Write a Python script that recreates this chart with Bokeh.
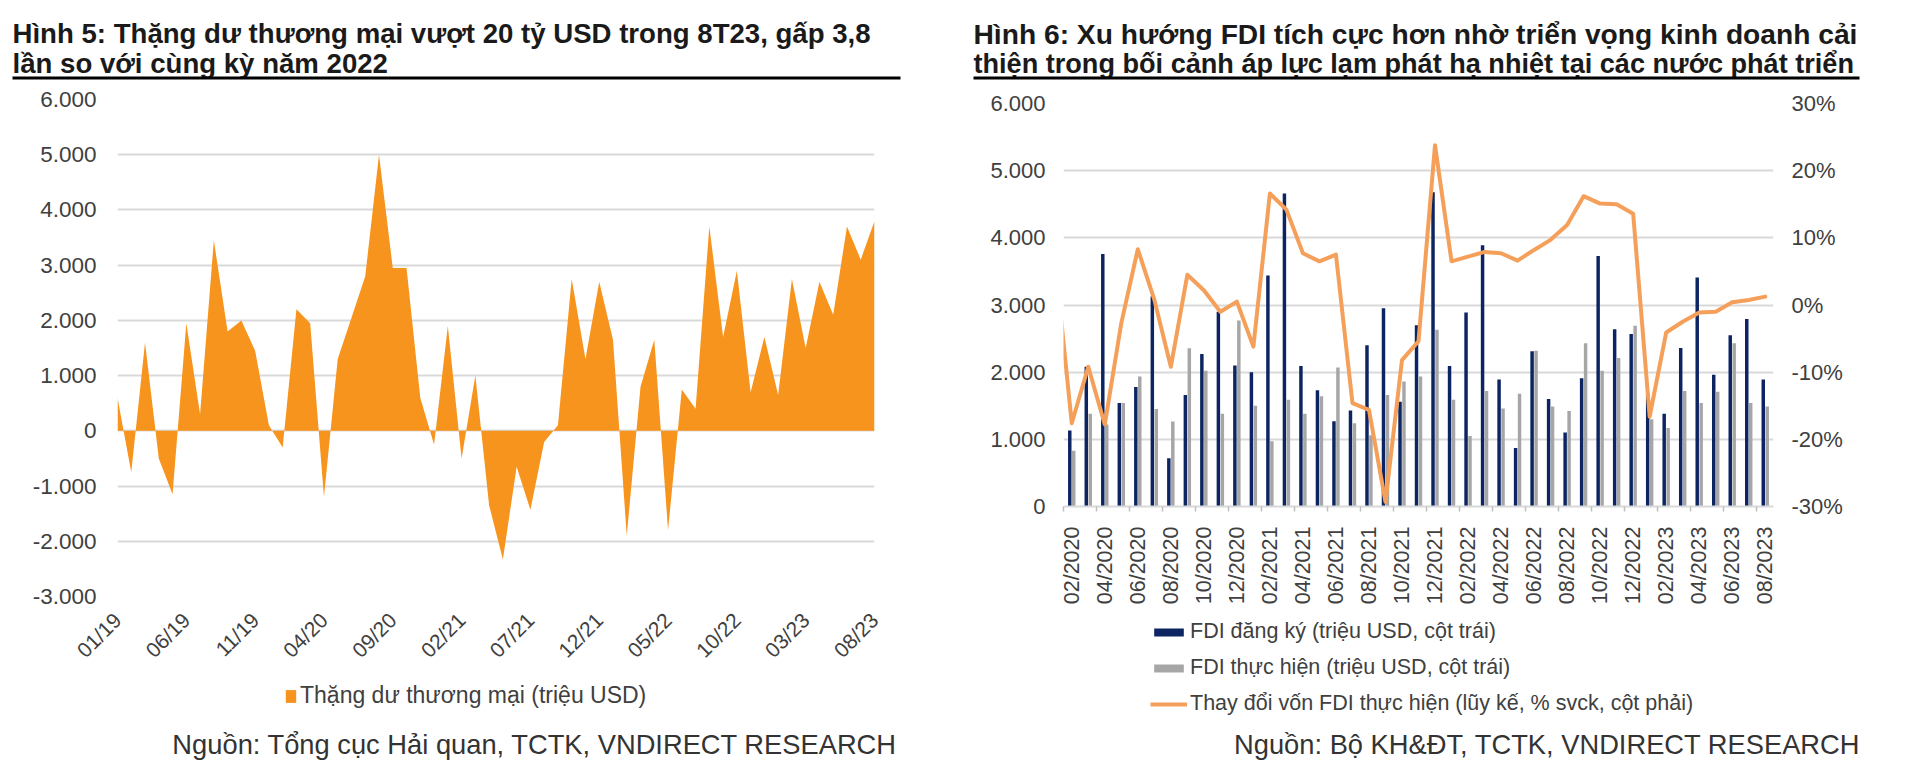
import numpy as np
from bokeh.plotting import figure
from bokeh.models import (Range1d, LinearAxis, FixedTicker, Label, BoxAnnotation,
                          Legend, LegendItem)
from bokeh.layouts import row, column
from bokeh.embed import file_html
from bokeh.resources import INLINE

FONT = "Liberation Sans"

# ---------------- Hình 5 data ----------------
trade_months = [
    "01/19", "02/19", "03/19", "04/19", "05/19", "06/19", "07/19", "08/19", "09/19", "10/19", "11/19", "12/19",
    "01/20", "02/20", "03/20", "04/20", "05/20", "06/20", "07/20", "08/20", "09/20", "10/20", "11/20", "12/20",
    "01/21", "02/21", "03/21", "04/21", "05/21", "06/21", "07/21", "08/21", "09/21", "10/21", "11/21", "12/21",
    "01/22", "02/22", "03/22", "04/22", "05/22", "06/22", "07/22", "08/22", "09/22", "10/22", "11/22", "12/22",
    "01/23", "02/23", "03/23", "04/23", "05/23", "06/23", "07/23", "08/23"]
trade_surplus = [
    600, -750, 1600, -500, -1150, 1950, 300, 3450, 1800, 2000, 1450, 100,
    -300, 2200, 1950, -1200, 1300, 2050, 2800, 5000, 2950, 2950, 600, -250,
    1900, -500, 1000, -1350, -2330, -650, -1430, -200, 100, 2750, 1300, 2700,
    1650, -1900, 800, 1650, -1800, 750, 400, 3700, 1700, 2900, 700, 1700,
    650, 2750, 1500, 2700, 2100, 3700, 3100, 3800]
trade_yticks = [-3000, -2000, -1000, 0, 1000, 2000, 3000, 4000, 5000, 6000]
trade_ytick_labels = ["-3.000", "-2.000", "-1.000", "0", "1.000", "2.000", "3.000", "4.000", "5.000", "6.000"]
trade_title = ["Hình 5: Thặng dư thương mại vượt 20 tỷ USD trong 8T23, gấp 3,8",
               "lần so với cùng kỳ năm 2022"]
trade_legend = "Thặng dư thương mại (triệu USD)"
trade_source = "Nguồn: Tổng cục Hải quan, TCTK, VNDIRECT RESEARCH"

# ---------------- Hình 6 data ----------------
fdi_months = [
    "02/2020", "03/2020", "04/2020", "05/2020", "06/2020", "07/2020", "08/2020", "09/2020", "10/2020", "11/2020", "12/2020",
    "01/2021", "02/2021", "03/2021", "04/2021", "05/2021", "06/2021", "07/2021", "08/2021", "09/2021", "10/2021", "11/2021", "12/2021",
    "01/2022", "02/2022", "03/2022", "04/2022", "05/2022", "06/2022", "07/2022", "08/2022", "09/2022", "10/2022", "11/2022", "12/2022",
    "01/2023", "02/2023", "03/2023", "04/2023", "05/2023", "06/2023", "07/2023", "08/2023"]
fdi_registered = [
    1130, 2080, 3760, 1540, 1780, 3130, 720, 1660, 2270, 2900, 2100,
    2000, 3440, 4660, 2090, 1730, 1270, 1430, 2400, 2950, 1560, 2700, 4680,
    2090, 2890, 3890, 1890, 870, 2310, 1600, 1100, 1910, 3730, 2640, 2570,
    1680, 1380, 2360, 3410, 1960, 2550, 2790, 1890]
fdi_disbursed = [
    830, 1380, 1220, 1540, 1935, 1450, 1265, 2356, 2020, 1380, 2770,
    1500, 970, 1590, 1380, 1640, 2070, 1240, 1060, 1660, 1860, 1935, 2630,
    1590, 1050, 1720, 1460, 1680, 2320, 1490, 1420, 2430, 2020, 2210, 2690,
    1300, 1170, 1720, 1540, 1710, 2430, 1540, 1490]
fdi_change_months = ["01/2020"] + fdi_months
fdi_change_pct = [
    6.5, -17.6, -9.2, -17.8, -2.7, 8.3, 0.8, -9.2, 4.5, 2.2, -1.0, 0.5,
    -6.2, 16.6, 14.2, 7.7, 6.5, 7.5, -14.6, -15.6, -29.3, -8.2, -5.4, 23.8,
    6.5, 7.2, 7.9, 7.7, 6.6, 8.2, 9.7, 11.9, 16.2, 15.1, 15.0, 13.6,
    -16.6, -4.1, -2.5, -1.1, -1.0, 0.4, 0.75, 1.25]
fdi_yticks = [0, 1000, 2000, 3000, 4000, 5000, 6000]
fdi_ytick_labels = ["0", "1.000", "2.000", "3.000", "4.000", "5.000", "6.000"]
pct_ticks = [-30, -20, -10, 0, 10, 20, 30]
pct_tick_labels = ["-30%", "-20%", "-10%", "0%", "10%", "20%", "30%"]
fdi_title = ["Hình 6: Xu hướng FDI tích cực hơn nhờ triển vọng kinh doanh cải",
             "thiện trong bối cảnh áp lực lạm phát hạ nhiệt tại các nước phát triển"]
fdi_legend = ["FDI đăng ký (triệu USD, cột trái)",
              "FDI thực hiện (triệu USD, cột trái)",
              "Thay đổi vốn FDI thực hiện (lũy kế, % svck, cột phải)"]
fdi_source = "Nguồn: Bộ KH&ĐT, TCTK, VNDIRECT RESEARCH"

ORANGE = "#F7941D"
NAVY = "#0c2462"
GRAY = "#a6a6a6"
LINE_ORANGE = "#F5A05A"
GRID = "#d9d9d9"
TXT = "#404040"
NAN = float("nan")


def blank_fig(w, h):
    """A figure whose frame covers the whole canvas; y grows downward (pixel-like units)."""
    f = figure(width=w, height=h, output_backend="svg", toolbar_location=None, title=None,
               x_axis_type=None, y_axis_type=None, frame_align=False,
               x_range=Range1d(0, w), y_range=Range1d(h, 0),
               min_border=0, min_border_left=0, min_border_right=0,
               min_border_top=0, min_border_bottom=0)
    f.outline_line_color = None
    f.background_fill_color = "white"
    f.border_fill_color = "white"
    f.grid.visible = False
    return f


def header(w, h, lines, sizes, x, y0, dy, line_top, line_right):
    f = blank_fig(w, h)
    for k, (t, s) in enumerate(zip(lines, sizes)):
        f.add_layout(Label(x=x, y=y0 + k * dy, text=t, text_font=FONT, text_font_style="bold",
                           text_font_size=s, text_color="#1a1a1a",
                           text_baseline="alphabetic", text_align="left"))
    f.add_layout(BoxAnnotation(left=x, right=line_right, top=line_top, bottom=line_top + 3,
                               fill_color="black", fill_alpha=1.0, line_color=None))
    return f


def style_main(p):
    p.outline_line_color = None
    p.background_fill_color = "white"
    p.border_fill_color = "white"
    p.xgrid.visible = False


# ================= Hình 5 =================
h1 = header(958, 80, trade_title, ["27.6px", "27.6px"], 12, 33, 30, 76, 900)

n5 = len(trade_months)
x5 = np.arange(n5)
p1 = figure(width=958, height=592, output_backend="svg", toolbar_location=None, title=None,
            frame_align=False,
            x_range=Range1d(0, n5 - 1), y_range=Range1d(trade_yticks[0], trade_yticks[-1]),
            min_border_left=117, min_border_right=84, min_border_top=19, min_border_bottom=75)
style_main(p1)
p1.varea(x=x5, y1=np.zeros(n5), y2=trade_surplus, fill_color=ORANGE)

p1.ygrid.ticker = FixedTicker(ticks=trade_yticks)
p1.ygrid.grid_line_color = GRID
p1.ygrid.grid_line_width = 2
p1.yaxis.ticker = FixedTicker(ticks=trade_yticks)
p1.yaxis.major_label_overrides = dict(zip(trade_yticks, trade_ytick_labels))
p1.yaxis.axis_line_color = None
p1.yaxis.major_tick_line_color = None
p1.yaxis.minor_tick_line_color = None
p1.yaxis.major_tick_out = 0
p1.yaxis.major_tick_in = 0
p1.yaxis.major_label_standoff = 21
p1.yaxis.major_label_text_font = FONT
p1.yaxis.major_label_text_font_size = "22.5px"
p1.yaxis.major_label_text_color = TXT

xt5 = list(range(0, n5, 5))
p1.xaxis.ticker = FixedTicker(ticks=xt5)
p1.xaxis.major_label_overrides = {i: trade_months[i] for i in xt5}
p1.xaxis.major_label_orientation = np.pi / 4
p1.xaxis.axis_line_color = None
p1.xaxis.major_tick_line_color = None
p1.xaxis.minor_tick_line_color = None
p1.xaxis.major_tick_out = 0
p1.xaxis.major_tick_in = 0
p1.xaxis.major_label_standoff = 20
p1.xaxis.major_label_text_font = FONT
p1.xaxis.major_label_text_font_size = "21px"
p1.xaxis.major_label_text_color = TXT

f1 = blank_fig(958, 93)
# legend swatch only (no data drawn)
leg_area = f1.varea(x=[NAN], y1=[NAN], y2=[NAN], fill_color=ORANGE)
f1.add_layout(Legend(items=[LegendItem(label=trade_legend, renderers=[leg_area])],
                     location=(284, 56), border_line_color=None, background_fill_alpha=0,
                     padding=0, margin=0, spacing=0, glyph_width=13, glyph_height=16,
                     label_standoff=3, label_text_font=FONT, label_text_font_size="23px",
                     label_text_color=TXT))
f1.add_layout(Label(x=897, y=72, text=trade_source, text_font=FONT, text_font_size="27.3px",
                    text_color="#333333", text_align="right", text_baseline="alphabetic"))

# ================= Hình 6 =================
h2 = header(962, 80, fdi_title, ["28.2px", "27.1px"], 15, 33, 30, 76, 901)

n6 = len(fdi_months)
x6 = np.arange(n6)
p2 = figure(width=962, height=527, output_backend="svg", toolbar_location=None, title=None,
            frame_align=False,
            x_range=Range1d(-0.5, n6 - 0.5), y_range=Range1d(fdi_yticks[0], fdi_yticks[-1]),
            min_border_left=105, min_border_right=147, min_border_top=23, min_border_bottom=100)
style_main(p2)
p2.extra_y_ranges = {"pct": Range1d(pct_ticks[0], pct_ticks[-1])}

p2.vbar(x=x6 - 0.12, top=fdi_registered, width=0.21, fill_color=NAVY, line_color=None)
p2.vbar(x=x6 + 0.12, top=fdi_disbursed, width=0.21, fill_color=GRAY, line_color=None)
p2.line(x=np.arange(len(fdi_change_months)) - 1, y=fdi_change_pct, y_range_name="pct",
        line_color=LINE_ORANGE, line_width=4, line_join="round", line_cap="round")

p2.ygrid.ticker = FixedTicker(ticks=fdi_yticks)
p2.ygrid.grid_line_color = GRID
p2.ygrid.grid_line_width = 2
p2.yaxis.ticker = FixedTicker(ticks=fdi_yticks)
p2.yaxis.major_label_overrides = dict(zip(fdi_yticks, fdi_ytick_labels))

ax_r = LinearAxis(y_range_name="pct", ticker=FixedTicker(ticks=pct_ticks),
                  major_label_overrides=dict(zip(pct_ticks, pct_tick_labels)))
p2.add_layout(ax_r, "right")
for ax in (p2.yaxis[0], ax_r):
    ax.axis_line_color = None
    ax.major_tick_line_color = None
    ax.minor_tick_line_color = None
    ax.major_tick_out = 0
    ax.major_tick_in = 0
    ax.major_label_standoff = 18
    ax.major_label_text_font = FONT
    ax.major_label_text_font_size = "22px"
    ax.major_label_text_color = TXT

xt6 = list(range(0, n6, 2))
p2.xaxis.ticker = FixedTicker(ticks=xt6, minor_ticks=[t - 0.5 for t in xt6])
p2.xaxis.major_label_overrides = {i: fdi_months[i] for i in xt6}
p2.xaxis.major_label_orientation = np.pi / 2
p2.xaxis.axis_line_color = GRID
p2.xaxis.axis_line_width = 2
p2.xaxis.major_tick_line_color = None
p2.xaxis.major_tick_out = 0
p2.xaxis.major_tick_in = 0
p2.xaxis.minor_tick_out = 5
p2.xaxis.minor_tick_in = 0
p2.xaxis.minor_tick_line_color = "#bfbfbf"
p2.xaxis.minor_tick_line_width = 1.5
p2.xaxis.major_label_standoff = 15
p2.xaxis.major_label_text_font = FONT
p2.xaxis.major_label_text_font_size = "21.5px"
p2.xaxis.major_label_text_color = TXT

f2 = blank_fig(962, 158)
# legend swatches only (no data drawn)
lg_reg = f2.vbar(x=[NAN], top=[NAN], width=1, fill_color=NAVY, line_color=None)
lg_dis = f2.vbar(x=[NAN], top=[NAN], width=1, fill_color=GRAY, line_color=None)
lg_line = f2.line(x=[NAN], y=[NAN], line_color=LINE_ORANGE, line_width=4)
f2.add_layout(Legend(items=[LegendItem(label=fdi_legend[0], renderers=[lg_reg]),
                            LegendItem(label=fdi_legend[1], renderers=[lg_dis]),
                            LegendItem(label=fdi_legend[2], renderers=[lg_line])],
                     location=(192, 49), border_line_color=None, background_fill_alpha=0,
                     padding=0, margin=0, spacing=11, glyph_width=37, glyph_height=10,
                     label_standoff=3, label_text_font=FONT, label_text_font_size="21.5px",
                     label_text_color=TXT))
f2.add_layout(Label(x=902, y=137, text=fdi_source, text_font=FONT, text_font_size="27.3px",
                    text_color="#333333", text_align="right", text_baseline="alphabetic"))

left = column(h1, p1, f1, spacing=0)
right = column(h2, p2, f2, spacing=0)
layout = row(left, right, spacing=0)
open("out.html", "w").write(file_html(layout, INLINE))
